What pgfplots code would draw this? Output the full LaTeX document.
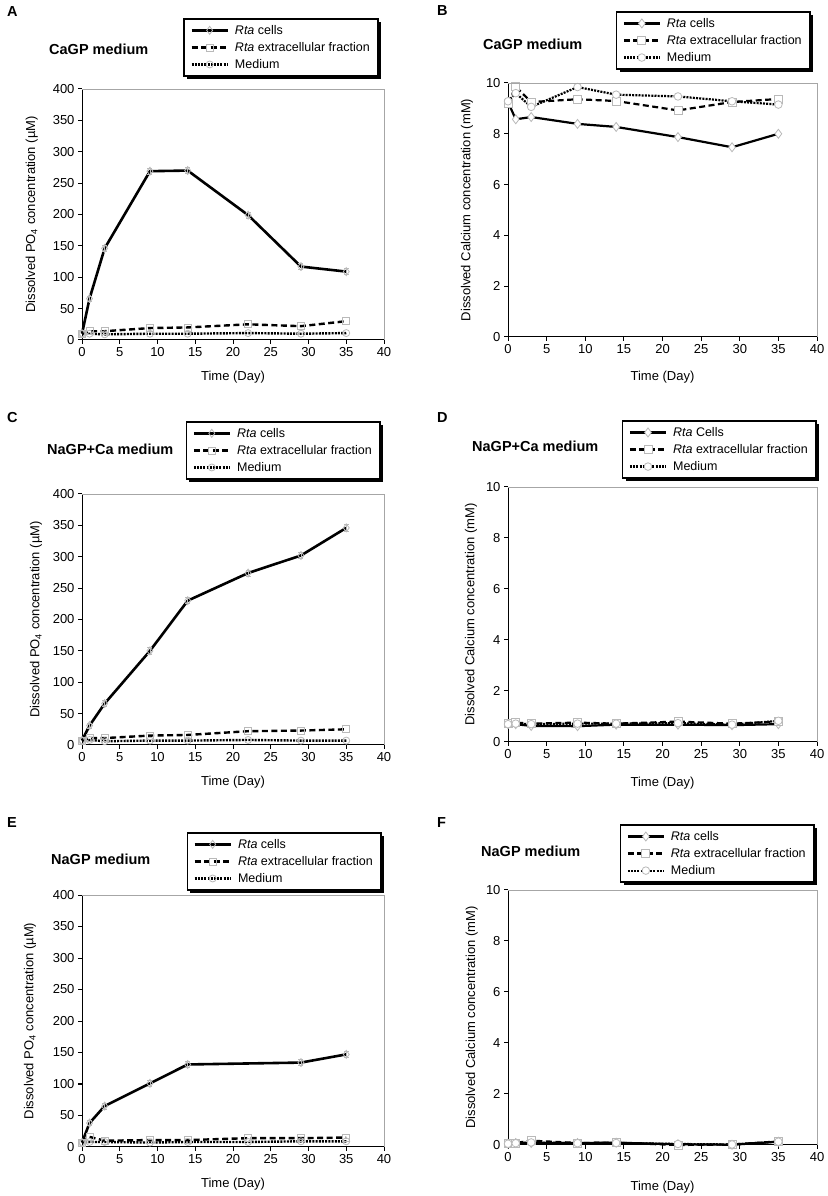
\documentclass[border=0pt]{standalone}
\usepackage{fontspec}
\setmainfont{Liberation Sans}
\usepackage{pgfplots}
\pgfplotsset{compat=1.18}

\newcommand\fs{\fontsize{12.5}{14}\selectfont}
\newcommand\ls{\fontsize{13}{15}\selectfont}
\newcommand\tfs{\fontsize{14.5}{17}\selectfont\bfseries}

% black frame and offset shadow round a named legend
\newcommand\legshadow[1]{%
  \draw[black, line width=1.4pt] (#1.south west) rectangle (#1.north east);
  \fill[black] ([shift={(0pt,-3pt)}]#1.south east) rectangle ([shift={(3pt,-3pt)}]#1.north east);
  \fill[black] ([shift={(3pt,-3pt)}]#1.south west) rectangle ([shift={(3pt,0pt)}]#1.south east);
}

\pgfplotsset{
  panel/.style={
    scale only axis, clip=false,
    xmin=0, xmax=40, xtick={0,5,...,40}, ymin=0,
    axis x line*=bottom, axis y line*=left,
    axis line style={black, line width=1pt},
    tick align=outside, major tick length=4pt,
    every tick/.style={black, line width=1pt},
    tick label style={font=\ls},
    label style={font=\ls},
    /pgf/number format/assume math mode=true,
    xlabel={Time (Day)},
    legend cell align=left,
    legend style={font=\fs, anchor=south east, draw=none, fill=white,
      inner xsep=6pt, inner ysep=4pt, row sep=2.5pt, column sep=4pt},
    legend image code/.code={\draw[mark repeat=2, mark phase=2] plot coordinates {(0pt,0pt) (18pt,0pt) (36pt,0pt)};},
    after end axis/.code={\draw[gray!70, line width=0.6pt] (rel axis cs:0,1) -- (rel axis cs:1,1) -- (rel axis cs:1,0);},
  },
  po4/.style={panel, ymax=400, ytick={0,50,...,400},
    ylabel={Dissolved PO\textsubscript{4} concentration (µM)}},
  ca/.style={panel, ymax=10, ytick={0,2,...,10},
    ylabel={Dissolved Calcium concentration (mM)}},
  % small hollow marks (phosphate panels)
  cellsP/.style={black, line width=2.6pt, solid, mark=diamond, mark size=4pt,
    mark options={solid, draw=gray!55, line width=0.8pt},
    error bars/.cd, y dir=both, y explicit,
    error bar style={gray!55, line width=0.8pt, solid},
    error mark options={rotate=90, gray!55, mark size=2.5pt, line width=0.8pt}},
  extraP/.style={black, line width=2.4pt, dash pattern=on 6pt off 3.5pt, mark=square, mark size=3.5pt,
    mark options={solid, draw=gray!55, line width=0.8pt}},
  medP/.style={black, line width=2.4pt, dash pattern=on 2pt off 1.2pt, mark=o, mark size=3.5pt,
    mark options={solid, draw=gray!55, line width=0.8pt}},
  % white filled marks (calcium panels)
  cellsC/.style={black, line width=2.2pt, solid, mark=diamond*, mark size=4.5pt,
    mark options={solid, draw=gray!55, fill=white, line width=0.8pt}},
  extraC/.style={black, line width=2.2pt, dash pattern=on 6pt off 3.5pt, mark=square*, mark size=4pt,
    mark options={solid, draw=gray!55, fill=white, line width=0.8pt}},
  medC/.style={black, line width=2.2pt, dash pattern=on 2pt off 1.2pt, mark=*, mark size=3.8pt,
    mark options={solid, draw=gray!55, fill=white, line width=0.8pt}},
}

\begin{document}
\begin{tikzpicture}
\useasboundingbox (0pt,0pt) rectangle (827pt,1196pt);

% ---------- A ----------
\node[anchor=west, inner sep=0pt, font=\tfs] at (7pt,1184pt) {A};
\node[anchor=west, inner sep=0pt, font=\tfs] at (49pt,1147pt) {CaGP medium};
\begin{axis}[po4, at={(82pt,856pt)}, anchor=south west, width=302pt, height=251pt,
  ylabel style={at={(axis description cs:-0.166,0.5)}, anchor=center},
  xlabel style={at={(axis description cs:0.5,-0.147)}, anchor=center},
  legend style={name=legA, at={(axis description cs:0.980,1.052)}}]
\addplot[cellsP] coordinates {(0,10) (1,66) +- (0,4) (3,146) +- (0,5) (9,269) +- (0,5) (14,270) +- (0,5) (22,199) +- (0,5) (29,117) +- (0,5) (35,109) +- (0,5)};
\addplot[extraP] coordinates {(0,10) (1,14) (3,14) (9,19) (14,20) (22,25) (29,22) (35,30)};
\addplot[medP] coordinates {(0,10) (1,10) (3,9) (9,10) (14,10) (22,11) (29,10) (35,11)};
\legend{\textit{Rta} cells, \textit{Rta} extracellular fraction, Medium}
\end{axis}
\legshadow{legA}

% ---------- B ----------
\node[anchor=west, inner sep=0pt, font=\tfs] at (437pt,1185pt) {B};
\node[anchor=west, inner sep=0pt, font=\tfs] at (483pt,1152pt) {CaGP medium};
\begin{axis}[ca, at={(508pt,859pt)}, anchor=south west, width=309pt, height=254pt,
  ylabel style={at={(axis description cs:-0.133,0.5)}, anchor=center},
  xlabel style={at={(axis description cs:0.5,-0.157)}, anchor=center},
  legend style={name=legB, at={(axis description cs:0.977,1.055)}}]
\addplot[cellsC] coordinates {(0,9.25) (1,8.57) (3,8.66) (9,8.39) (14,8.27) (22,7.87) (29,7.47) (35,8.0)};
\addplot[extraC] coordinates {(0,9.2) (1,9.85) (3,9.25) (9,9.36) (14,9.29) (22,8.92) (29,9.25) (35,9.37)};
\addplot[medC] coordinates {(0,9.28) (1,9.6) (3,9.06) (9,9.84) (14,9.54) (22,9.47) (29,9.28) (35,9.15)};
\legend{\textit{Rta} cells, \textit{Rta} extracellular fraction, Medium}
\end{axis}
\legshadow{legB}

% ---------- C ----------
\node[anchor=west, inner sep=0pt, font=\tfs] at (7pt,778pt) {C};
\node[anchor=west, inner sep=0pt, font=\tfs] at (47pt,747pt) {NaGP+Ca medium};
\begin{axis}[po4, at={(82pt,451pt)}, anchor=south west, width=302pt, height=251pt,
  ylabel style={at={(axis description cs:-0.152,0.5)}, anchor=center},
  xlabel style={at={(axis description cs:0.5,-0.147)}, anchor=center},
  legend style={name=legC, at={(axis description cs:0.987,1.06)}}]
\addplot[cellsP] coordinates {(0,7) (1,31) +- (0,4) (3,66) +- (0,5) (9,150) +- (0,5) (14,230) +- (0,5) (22,274) +- (0,5) (29,302) +- (0,5) (35,346) +- (0,5)};
\addplot[extraP] coordinates {(0,7) (1,11) (3,11) (9,15) (14,16) (22,22) (29,23) (35,25)};
\addplot[medP] coordinates {(0,7) (1,8) (3,6) (9,7) (14,7) (22,8) (29,7) (35,7)};
\legend{\textit{Rta} cells, \textit{Rta} extracellular fraction, Medium}
\end{axis}
\legshadow{legC}

% ---------- D ----------
\node[anchor=west, inner sep=0pt, font=\tfs] at (437pt,778pt) {D};
\node[anchor=west, inner sep=0pt, font=\tfs] at (472pt,750pt) {NaGP+Ca medium};
\begin{axis}[ca, at={(508pt,454pt)}, anchor=south west, width=309pt, height=255pt,
  ylabel style={at={(axis description cs:-0.12,0.5)}, anchor=center},
  xlabel style={at={(axis description cs:0.5,-0.161)}, anchor=center},
  legend style={name=legD, at={(axis description cs:0.997,1.035)}}]
\addplot[cellsC] coordinates {(0,0.70) (1,0.70) (3,0.63) (9,0.62) (14,0.68) (22,0.68) (29,0.66) (35,0.70)};
\addplot[extraC] coordinates {(0,0.72) (1,0.76) (3,0.72) (9,0.76) (14,0.72) (22,0.80) (29,0.72) (35,0.80)};
\addplot[medC] coordinates {(0,0.70) (1,0.72) (3,0.70) (9,0.72) (14,0.72) (22,0.74) (29,0.68) (35,0.83)};
\legend{\textit{Rta} Cells, \textit{Rta} extracellular fraction, Medium}
\end{axis}
\legshadow{legD}

% ---------- E ----------
\node[anchor=west, inner sep=0pt, font=\tfs] at (7pt,373pt) {E};
\node[anchor=west, inner sep=0pt, font=\tfs] at (51pt,337pt) {NaGP medium};
\begin{axis}[po4, at={(82pt,49pt)}, anchor=south west, width=302pt, height=252pt,
  ylabel style={at={(axis description cs:-0.172,0.5)}, anchor=center},
  xlabel style={at={(axis description cs:0.5,-0.147)}, anchor=center},
  legend style={name=legE, at={(axis description cs:0.99,1.02)}}]
\addplot[cellsP] coordinates {(0,7) (1,38) +- (0,4) (3,65) +- (0,5) (9,101) +- (0,5) (14,131) +- (0,5) (29,134) +- (0,5) (35,147) +- (0,5)};
\addplot[extraP] coordinates {(0,7) (1,16) (3,10) (9,11) (14,11) (22,14) (29,14) (35,15)};
\addplot[medP] coordinates {(0,7) (1,8) (3,8) (9,7) (14,8) (22,8) (29,9) (35,9)};
\legend{\textit{Rta} cells, \textit{Rta} extracellular fraction, Medium}
\end{axis}
\legshadow{legE}

% ---------- F ----------
\node[anchor=west, inner sep=0pt, font=\tfs] at (437pt,373pt) {F};
\node[anchor=west, inner sep=0pt, font=\tfs] at (481pt,345pt) {NaGP medium};
\begin{axis}[ca, at={(508pt,51pt)}, anchor=south west, width=309pt, height=255pt,
  ylabel style={at={(axis description cs:-0.117,0.5)}, anchor=center},
  xlabel style={at={(axis description cs:0.5,-0.165)}, anchor=center},
  legend style={name=legF, at={(axis description cs:0.99,1.031)}}]
\addplot[cellsC] coordinates {(0,0.05) (1,0.08) (3,0.08) (9,0.08) (14,0.09) (22,0.03) (29,0.01) (35,0.13)};
\addplot[extraC] coordinates {(0,0.05) (1,0.08) (3,0.17) (9,0.08) (14,0.09) (22,0.0) (29,0.02) (35,0.14)};
\addplot[medC] coordinates {(0,0.05) (1,0.07) (3,0.10) (9,0.07) (14,0.08) (22,0.04) (29,0.02) (35,0.13)};
\legend{\textit{Rta} cells, \textit{Rta} extracellular fraction, Medium}
\end{axis}
\legshadow{legF}
\end{tikzpicture}
\end{document}
